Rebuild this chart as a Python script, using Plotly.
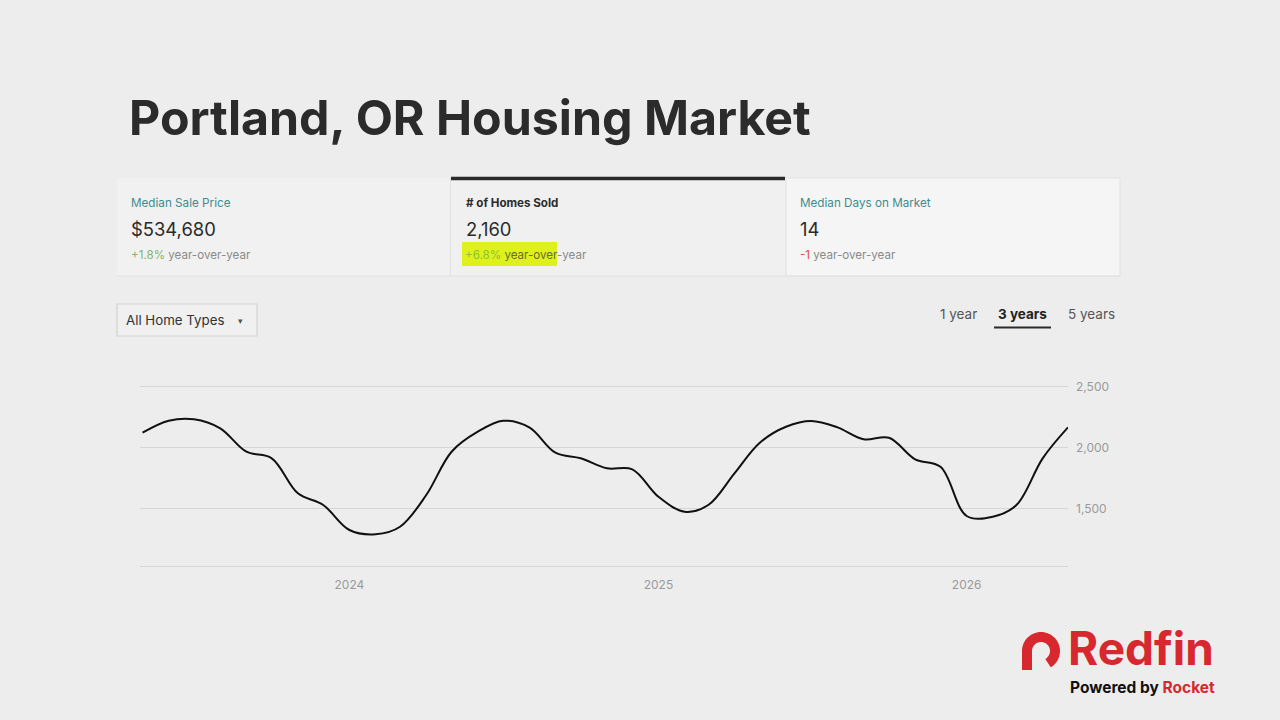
import math
import plotly.graph_objects as go
import pandas as pd

# ---------------- data ----------------
months = pd.date_range("2023-05-01", "2026-05-01", freq="MS").strftime("%Y-%m-%d").tolist()
homes_sold = [2120, 2218, 2230, 2156, 1964, 1910, 1623, 1527, 1322, 1287, 1349, 1609,
              1964, 2128, 2218, 2164, 1956, 1910, 1828, 1820, 1595, 1472, 1527, 1787,
              2038, 2169, 2216, 2164, 2066, 2079, 1902, 1841, 1437, 1431, 1527, 1910, 2164]
y_ticks = [1500, 2000, 2500]
y_tick_labels = ["1,500", "2,000", "2,500"]
x_ticks = ["2024-01-01", "2025-01-01", "2026-01-01"]
x_tick_labels = ["2024", "2025", "2026"]

title = "Portland, OR Housing Market"
metric_names = ["Median Sale Price", "# of Homes Sold", "Median Days on Market"]
metric_values = ["$534,680", "2,160", "14"]
metric_changes = ["+1.8%", "+6.8%", "-1"]

W, H = 1280, 720
BG = "#ededed"


def px(x, y):
    return x / W, 1 - y / H


fig = go.Figure()
fig.add_trace(go.Scatter(
    x=months, y=homes_sold, mode="lines",
    line=dict(color="#111111", width=2, shape="spline", smoothing=1.0),
    hoverinfo="skip", showlegend=False,
))

shapes = []
annotations = []


def rect(x0, y0, x1, y1, **kw):
    a0, b0 = px(x0, y0)
    a1, b1 = px(x1, y1)
    shapes.append(dict(type="rect", xref="paper", yref="paper", x0=a0, y0=b1, x1=a1, y1=b0, **kw))


def line(x0, y0, x1, y1, color, width):
    a0, b0 = px(x0, y0)
    a1, b1 = px(x1, y1)
    shapes.append(dict(type="line", xref="paper", yref="paper", x0=a0, y0=b0, x1=a1, y1=b1,
                       line=dict(color=color, width=width)))


def text(x, y, s, size, color="#333333", anchor="left", family="Inter", weight=400, **kw):
    a, b = px(x, y)
    annotations.append(dict(xref="paper", yref="paper", x=a, y=b, text=s, showarrow=False,
                            xanchor=anchor, yanchor="middle", borderpad=0,
                            font=dict(family=family, size=size, color=color, weight=weight), **kw))


# cards
rect(117, 178, 450, 276, fillcolor="rgba(246,246,246,0.5)", line=dict(width=0), layer="below")
rect(451, 178, 785, 276, fillcolor="rgba(242,242,242,0.6)", line=dict(width=0), layer="below")
rect(786, 178, 1120, 276, fillcolor="rgba(248,248,248,0.7)", line=dict(color="#e2e2e2", width=1), layer="below")
line(450.5, 178, 450.5, 276, "#e0e0e0", 1)
line(117, 276, 1120, 276, "#e2e2e2", 1)
line(451, 178.5, 785, 178.5, "#2a2a2a", 3.5)

# highlight
rect(462, 242, 557, 266, fillcolor="#dff11a", line=dict(width=0), layer="below")

# title
text(128, 118, title, 48.3, "#2b2b2b", weight=700)

# metric cards text
text(130, 203, metric_names[0], 11.7, "#3f8c8f")
text(130, 229, metric_values[0], 18.4, "#2b2b2b")
text(130, 255, f"<span style='color:#86b46a'>{metric_changes[0]}</span> year-over-year", 11.6, "#8a8a8a")

text(465, 203, metric_names[1], 11.6, "#2b2b2b", weight=700)
text(465, 229, metric_values[1], 18.4, "#2b2b2b")
text(464, 255, f"<span style='color:#8fbf3a'>{metric_changes[1]}</span> <span style='color:#6a6a3a'>year-over</span>-year", 11.6, "#8a8a8a")

text(799, 203, metric_names[2], 11.7, "#3f8c8f")
text(799, 229, metric_values[2], 18.4, "#2b2b2b")
text(799, 255, f"<span style='color:#e0503a'>{metric_changes[2]}</span> year-over-year", 11.6, "#8a8a8a")

# dropdown
rect(117, 304, 257, 336, fillcolor="rgba(242,242,242,0.6)", line=dict(color="#d2d2d2", width=1.2))
text(125, 320, "All Home Types", 13.3, "#333333")
text(240, 320, "▾", 9, "#555555", anchor="center")

# range selector
text(958, 314, "1 year", 13.5, "#555555", anchor="center")
text(1022, 314, "3 years", 13.5, "#222222", anchor="center", weight=700)
text(1091, 314, "5 years", 13.5, "#555555", anchor="center")
line(994, 327.5, 1051, 327.5, "#2a2a2a", 2)

# Redfin logo mark (arch with hooked right side)
red = "#d8282f"
cx, cy, r = 1041, 651, 14
pts = [(cx - r, 670), (cx - r, cy)]
for i in range(0, 41):
    th = math.radians(180 - i * 6)
    pts.append((cx + r * math.cos(th), cy - r * math.sin(th)))
path = "M " + " L ".join(f"{x / W:.5f},{1 - y / H:.5f}" for x, y in pts)
shapes.append(dict(type="path", xref="paper", yref="paper", path=path,
                   line=dict(color=red, width=10), fillcolor="rgba(0,0,0,0)"))
text(1141, 648, "Redfin", 46, red, anchor="center", weight=700)
text(1142, 687, "Powered by <span style='color:#d8282f'>Rocket</span>", 15.5, "#111111",
     anchor="center", weight=700)

# plot area
x_dom = (140 / W, 1068 / W)
y_dom = (1 - 566 / H, 1 - 376 / H)

fig.update_layout(
    width=W, height=H,
    margin=dict(l=0, r=0, t=0, b=0),
    paper_bgcolor=BG,
    plot_bgcolor="rgba(0,0,0,0)",
    shapes=shapes,
    annotations=annotations,
    xaxis=dict(domain=x_dom, range=["2023-04-28", "2026-05-01"], type="date",
               tickvals=x_ticks, ticktext=x_tick_labels, showgrid=False, zeroline=False,
               showline=True, linecolor="#d6d6d6", linewidth=1, ticks="", ticklabelstandoff=8,
               tickfont=dict(family="Inter", size=12, color="#9a9a9a"), fixedrange=True),
    yaxis=dict(domain=y_dom, range=[1027, 2585], side="right",
               tickvals=y_ticks, ticktext=y_tick_labels, showgrid=True, gridcolor="#d6d6d6",
               gridwidth=1, zeroline=False, ticks="", ticklabelstandoff=7,
               tickfont=dict(family="Inter", size=12, color="#9a9a9a"), fixedrange=True),
    showlegend=False,
)

fig.write_html("out.html")
